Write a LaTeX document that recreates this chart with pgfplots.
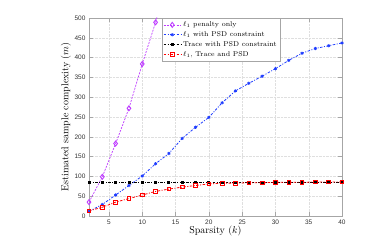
\documentclass[border=0pt]{standalone}
\usepackage{fontspec}
\usepackage{pgfplots}
\pgfplotsset{compat=1.18}
\newfontfamily\ticksf{Liberation Sans}
\definecolor{cpurple}{RGB}{190,60,255}
\definecolor{cblue}{RGB}{30,60,255}
\definecolor{cred}{RGB}{255,0,0}
\begin{document}
\begin{tikzpicture}
\begin{axis}[
  scale only axis, width=253pt, height=198pt,
  xmin=2, xmax=40, ymin=0, ymax=500,
  xtick={5,10,...,40}, ytick={0,50,...,500},
  grid=major, major grid style={densely dotted, gray!25},
  axis line style={gray!70, line width=0.6pt},
  tick style={gray!70},
  /pgf/number format/assume math mode=true,
  tick label style={font=\ticksf\fontsize{6.5}{7}\selectfont, text=black!80},
  xlabel={Sparsity ($k$)}, ylabel={Estimated sample complexity ($m$)},
  label style={font=\fontsize{10}{12}\selectfont},
  xlabel style={yshift=5pt}, ylabel style={yshift=-3pt},
  legend style={at={(0.287,1)}, anchor=north west, font=\fontsize{7}{8.5}\selectfont, draw=gray!70, row sep=-0.5pt, inner sep=1.5pt},
  legend cell align=left,
]
\coordinate (bl) at (rel axis cs:0,0);
\addplot[cpurple, dash pattern=on 2pt off 1.2pt, line width=0.7pt, mark=diamond, mark size=2.5pt, mark options={solid, line width=0.9pt}] coordinates {
(2,35) (4,99) (6,183) (8,272) (10,384) (12,489) (14,610)};
\addplot[cblue, dash pattern=on 2.5pt off 1.5pt on 1pt off 1.5pt, line width=0.8pt, mark=asterisk, mark size=1.6pt, mark options={solid}] coordinates {
(2,12) (4,29) (6,53) (8,77) (10,101) (12,132) (14,158) (16,196) (18,224) (20,249) (22,286) (24,316) (26,335) (28,353) (30,372) (32,393) (34,411) (36,423) (38,430) (40,437)};
\addplot[black, dash pattern=on 2.5pt off 1.5pt on 1pt off 1.5pt, line width=0.8pt, mark=square*, mark size=1pt, mark options={solid}] coordinates {
(2,86) (4,86) (6,86) (8,86) (10,86) (12,86) (14,86) (16,86) (18,86) (20,86) (22,86) (24,86) (26,86) (28,86) (30,86) (32,86) (34,86) (36,86) (38,86) (40,86)};
\addplot[cred, dash pattern=on 2.5pt off 1.5pt on 1pt off 1.5pt, line width=0.8pt, mark=square, mark size=1.8pt, mark options={solid, line width=0.8pt}] coordinates {
(2,13) (4,22) (6,35) (8,44) (10,53) (12,62) (14,68) (16,73) (18,77) (20,81) (22,83) (24,83) (26,84) (28,84) (30,85) (32,85) (34,85) (36,86) (38,86) (40,86)};
\legend{$\ell_1$ penalty only, $\ell_1$ with PSD constraint, Trace with PSD constraint, {$\ell_1$, Trace and PSD}}
\end{axis}
\path (bl) ++(-89pt,-27pt) rectangle ++(378pt,243pt);
\end{tikzpicture}
\end{document}
